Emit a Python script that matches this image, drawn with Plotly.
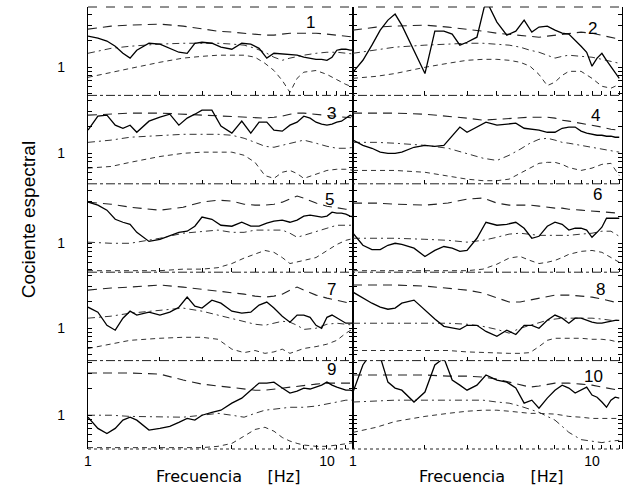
import plotly.graph_objects as go
from plotly.subplots import make_subplots

# Frequency grids [Hz]
freq_obs = [1.0, 1.1, 1.2, 1.3, 1.4, 1.5, 1.6, 1.8, 2.0, 2.2, 2.4, 2.6, 2.8, 3.0, 3.3, 3.6,
            4.0, 4.4, 4.8, 5.2, 5.6, 6.0, 6.5, 7.0, 7.5, 8.0, 8.5, 9.0, 9.5, 10.0, 10.5,
            11.0, 11.5, 12.0, 12.5, 13.0]
freq_mod = [1.0, 1.25, 1.5, 2.0, 2.5, 3.0, 3.5, 4.0, 4.5, 5.0, 5.5, 6.0, 6.5, 7.0, 7.5,
            8.0, 9.0, 10.0, 11.0, 12.0, 13.0]

# Observed spectral ratios (solid)
obs_1 = [2.25,2.14,1.98,1.73,1.44,1.27,1.56,1.87,1.83,1.64,1.48,1.44,1.87,1.92,1.87,1.69,1.60,1.87,1.83,1.64,1.27,1.44,1.41,1.37,1.37,1.30,1.27,1.23,1.23,1.20,1.30,1.56,1.60,1.60,1.56,1.56]
obs_2 = [0.88,1.20,1.78,2.63,3.42,4.00,3.00,1.56,0.85,2.56,2.56,2.37,1.78,1.92,2.19,5.77,3.25,2.31,2.56,3.42,2.50,2.85,2.92,2.63,2.43,2.37,2.03,1.73,1.48,1.03,1.27,1.44,1.20,1.03,0.88,0.75]
obs_3 = [1.83,2.63,2.70,2.08,1.92,2.08,1.73,2.31,2.56,2.77,2.08,2.50,2.77,3.08,3.08,2.03,1.69,2.31,1.69,2.25,2.25,1.83,1.78,2.08,2.25,2.63,2.50,2.25,2.14,2.08,2.14,2.25,2.31,2.50,2.70,2.56]
obs_4 = [1.41,1.23,1.14,1.03,1.00,1.00,1.03,1.17,1.23,1.20,1.23,1.60,1.98,1.73,1.98,2.25,2.08,2.14,2.19,1.92,1.87,1.83,1.73,1.73,1.92,1.98,1.98,1.78,1.69,1.64,1.60,1.60,1.56,1.56,1.52,1.52]
obs_5 = [2.92,2.70,2.37,1.87,1.73,1.64,1.33,1.05,1.11,1.23,1.33,1.37,1.56,1.98,1.87,1.60,1.56,1.73,1.56,1.56,1.69,1.78,1.83,1.73,1.83,2.03,2.08,2.03,1.98,2.03,2.25,2.19,2.19,2.14,2.03,1.98]
obs_6 = [1.30,0.95,0.85,0.85,0.95,1.00,0.97,0.88,0.71,0.83,0.92,0.88,0.81,0.83,1.14,1.73,1.60,1.64,1.73,1.48,1.14,1.20,1.56,1.73,1.64,1.41,1.48,1.48,1.41,1.17,1.33,1.52,1.92,1.92,1.92,1.92]
obs_7 = [1.73,1.52,1.08,0.95,1.30,1.56,1.41,1.52,1.41,1.52,1.73,2.25,1.78,1.69,2.08,1.92,1.56,1.48,1.52,1.83,1.98,1.69,1.37,1.17,1.41,1.41,1.33,1.08,1.00,1.33,1.41,1.30,1.23,1.14,1.14,1.14]
obs_8 = [2.56,2.19,1.92,1.73,1.64,1.69,1.92,2.08,1.60,1.27,1.05,1.00,0.97,1.08,1.08,0.92,0.81,0.95,0.85,1.08,1.08,1.00,1.23,1.41,1.30,1.14,1.30,1.30,1.23,1.17,1.14,1.14,1.17,1.20,1.23,1.23]
obs_9 = [0.95,0.71,0.62,0.71,0.88,0.95,0.88,0.68,0.71,0.75,0.83,0.92,0.88,1.00,1.08,1.14,1.37,1.56,1.92,2.31,2.31,2.37,2.03,1.78,1.87,2.03,1.98,2.08,2.19,2.37,2.19,2.08,1.98,1.92,1.92,1.87]
obs_10 = [1.83,3.70,5.19,4.57,2.37,2.03,1.92,1.41,1.83,3.70,4.44,2.50,2.19,1.92,2.19,2.85,2.50,2.37,2.03,1.37,1.48,1.20,1.56,1.92,2.19,2.03,1.78,1.92,2.08,1.69,1.60,1.41,1.23,1.48,1.60,1.56]

# Model curves: upper (a), middle (b), lower (c)
a_1 = [2.70,2.92,3.00,3.08,2.92,2.70,2.56,2.50,2.43,2.37,2.31,2.31,2.37,2.43,2.43,2.43,2.43,2.37,2.31,2.25,2.19]
b_1 = [1.44,1.64,1.73,1.83,1.87,1.87,1.87,1.83,1.78,1.64,1.48,1.30,1.20,1.27,1.33,1.37,1.44,1.48,1.48,1.44,1.41]
c_1 = [0.77,0.88,0.97,1.14,1.27,1.33,1.37,1.37,1.37,1.30,1.11,0.92,0.71,0.52,0.75,0.88,0.92,0.83,0.73,0.64,0.59]
a_2 = [2.63,2.85,2.92,3.00,2.85,2.70,2.56,2.43,2.37,2.31,2.25,2.19,2.25,2.31,2.37,2.43,2.50,2.43,2.31,2.19,2.08]
b_2 = [1.44,1.56,1.69,1.78,1.83,1.87,1.87,1.83,1.78,1.69,1.56,1.48,1.37,1.27,1.33,1.37,1.33,1.30,1.23,1.17,1.11]
c_2 = [0.75,0.79,0.85,1.00,1.11,1.20,1.23,1.23,1.20,1.14,1.03,0.83,0.62,0.68,0.81,0.90,0.90,0.75,0.61,0.58,0.64]
a_3 = [2.70,2.77,2.85,2.85,2.77,2.70,2.63,2.56,2.56,2.50,2.50,2.56,2.63,2.77,2.85,2.85,2.77,2.70,2.63,2.56,2.50]
b_3 = [1.33,1.41,1.52,1.60,1.64,1.64,1.64,1.60,1.48,1.33,1.20,1.17,1.23,1.30,1.37,1.41,1.30,1.20,1.14,1.14,1.17]
c_3 = [0.68,0.71,0.79,0.92,1.00,1.03,1.03,1.03,0.95,0.79,0.56,0.52,0.61,0.64,0.59,0.52,0.58,0.64,0.66,0.66,0.64]
a_4 = [2.85,2.85,2.85,2.77,2.63,2.50,2.37,2.43,2.50,2.56,2.56,2.56,2.56,2.50,2.37,2.31,2.19,2.08,1.98,1.87,1.83]
b_4 = [1.33,1.33,1.30,1.23,1.14,1.00,0.88,0.83,0.95,1.11,1.30,1.44,1.48,1.41,1.33,1.30,1.23,1.17,1.11,1.08,1.03]
c_4 = [0.64,0.64,0.64,0.61,0.55,0.51,0.49,0.49,0.51,0.59,0.68,0.77,0.79,0.79,0.75,0.69,0.64,0.68,0.75,0.77,0.56]
a_5 = [2.92,2.77,2.56,2.37,2.56,2.92,3.08,3.00,2.77,2.70,2.70,2.77,2.92,3.16,3.42,3.25,2.85,2.63,2.50,2.43,2.37]
b_5 = [1.03,1.00,1.00,1.14,1.30,1.37,1.41,1.33,1.33,1.41,1.41,1.41,1.41,1.30,1.17,1.23,1.37,1.48,1.60,1.60,1.60]
c_5 = [0.49,0.49,0.49,0.49,0.51,0.51,0.53,0.59,0.68,0.75,0.83,0.79,0.69,0.59,0.61,0.64,0.69,0.83,0.97,1.08,1.14]
a_6 = [2.85,2.85,2.77,2.70,2.85,3.16,3.25,2.85,2.70,2.70,2.70,2.63,2.56,2.50,2.50,2.43,2.37,2.31,2.25,2.19,2.19]
b_6 = [1.14,1.14,1.14,1.11,1.08,1.03,1.08,1.17,1.27,1.30,1.27,1.23,1.23,1.23,1.23,1.23,1.27,1.30,1.37,1.37,1.20]
c_6 = [0.49,0.49,0.49,0.49,0.49,0.49,0.51,0.58,0.68,0.71,0.64,0.59,0.61,0.64,0.69,0.75,0.81,0.83,0.79,0.69,0.61]
a_7 = [2.70,2.85,2.92,3.08,2.92,2.77,2.63,2.56,2.43,2.31,2.25,2.31,2.43,2.70,2.92,2.70,2.37,2.19,2.08,1.98,1.87]
b_7 = [1.30,1.37,1.48,1.60,1.69,1.56,1.41,1.30,1.20,1.11,1.08,1.14,1.20,1.17,1.08,0.97,1.00,1.11,1.14,1.11,1.08]
c_7 = [0.59,0.66,0.73,0.77,0.79,0.79,0.75,0.58,0.53,0.56,0.52,0.54,0.58,0.52,0.56,0.59,0.62,0.66,0.73,0.88,1.00]
a_8 = [3.08,3.08,3.08,3.00,2.85,2.70,2.50,2.19,1.98,1.98,2.08,2.19,2.31,2.37,2.37,2.37,2.31,2.25,2.14,2.03,1.92]
b_8 = [1.14,1.14,1.14,1.14,1.14,1.11,1.05,0.97,0.88,1.00,1.08,1.17,1.23,1.27,1.30,1.30,1.30,1.30,1.27,1.23,1.23]
c_8 = [0.56,0.56,0.56,0.56,0.56,0.54,0.53,0.52,0.52,0.52,0.53,0.62,0.73,0.77,0.77,0.77,0.77,0.75,0.75,0.73,0.69]
a_9 = [3.00,3.00,3.00,2.92,2.50,2.25,2.14,2.03,1.98,1.92,1.92,1.98,2.03,2.08,2.14,2.19,2.25,2.31,2.31,2.31,2.31]
b_9 = [1.00,1.00,0.97,0.95,0.95,1.00,1.05,1.00,0.95,1.05,1.14,1.17,1.20,1.23,1.23,1.23,1.27,1.33,1.41,1.48,1.48]
c_9 = [0.43,0.43,0.43,0.43,0.43,0.43,0.445,0.48,0.58,0.69,0.73,0.66,0.56,0.51,0.48,0.46,0.445,0.445,0.46,0.48,0.49]
a_10 = [2.85,2.85,2.85,2.85,2.77,2.77,2.70,2.56,2.37,2.19,2.08,2.14,2.25,2.31,2.31,2.31,2.25,2.19,2.08,1.98,1.92]
b_10 = [1.41,1.44,1.48,1.48,1.48,1.48,1.48,1.41,1.37,1.27,1.17,1.08,0.97,0.88,0.75,0.64,0.53,0.51,0.49,0.51,0.52]
c_10 = [0.64,0.73,0.85,0.97,1.05,1.11,1.14,1.14,1.11,1.08,1.05,1.05,1.05,1.03,1.00,0.97,0.95,0.92,0.92,0.92,0.92]

panel_labels = ["1", "2", "3", "4", "5", "6", "7", "8", "9", "10"]
x_tick_vals = [1, 2, 3, 4, 5, 6, 7, 8, 9, 10, 11, 12, 13]
x_tick_text = ["1", "", "", "", "", "", "", "", "", "10", "", "", ""]
y_tick_vals = [0.5, 0.6, 0.7, 0.8, 0.9, 1, 2, 3, 4]
y_tick_text = ["", "", "", "", "", "1", "", "", ""]

obs = [obs_1, obs_2, obs_3, obs_4, obs_5, obs_6, obs_7, obs_8, obs_9, obs_10]
mod_a = [a_1, a_2, a_3, a_4, a_5, a_6, a_7, a_8, a_9, a_10]
mod_b = [b_1, b_2, b_3, b_4, b_5, b_6, b_7, b_8, b_9, b_10]
mod_c = [c_1, c_2, c_3, c_4, c_5, c_6, c_7, c_8, c_9, c_10]

# layout helpers (log10 ranges)
row_ranges = [[-0.318, 0.682], [-0.345, 0.655], [-0.327, 0.673], [-0.366, 0.634], [-0.382, 0.618]]
col_xranges = [[0, 1.109], [0, 1.1255]]
label_x = [0.84, 0.89, 0.92, 0.90, 0.91, 0.91, 0.92, 0.92, 0.92, 0.895]
label_y = [0.82, 0.76, 0.80, 0.77, 0.82, 0.875, 0.80, 0.80, 0.90, 0.82]

fig = make_subplots(rows=5, cols=2, horizontal_spacing=0, vertical_spacing=0,
                    column_widths=[265, 269])

for k in range(10):
    r = k // 2 + 1
    c = k % 2 + 1
    fig.add_trace(go.Scatter(x=freq_mod, y=mod_a[k], mode="lines",
                             line=dict(color="#222", width=1.1, dash="9px,6px")), row=r, col=c)
    fig.add_trace(go.Scatter(x=freq_mod, y=mod_b[k], mode="lines",
                             line=dict(color="#333", width=1.0, dash="7px,4px,2px,4px")), row=r, col=c)
    fig.add_trace(go.Scatter(x=freq_mod, y=mod_c[k], mode="lines",
                             line=dict(color="#333", width=1.0, dash="5px,4px")), row=r, col=c)
    fig.add_trace(go.Scatter(x=freq_obs, y=obs[k], mode="lines",
                             line=dict(color="black", width=1.3)), row=r, col=c)

    sfx = "" if k == 0 else str(k + 1)
    fig.layout["xaxis" + sfx].update(
        type="log", range=col_xranges[c - 1], tickvals=x_tick_vals, ticktext=x_tick_text,
        ticks="inside", ticklen=4, tickcolor="black", tickwidth=1, showgrid=False,
        zeroline=False, showline=False, showticklabels=(r == 5), ticklabelstandoff=2,
        tickfont=dict(size=14, color="black"))
    fig.layout["yaxis" + sfx].update(
        type="log", range=row_ranges[r - 1], tickvals=y_tick_vals, ticktext=y_tick_text,
        ticks="inside", ticklen=4, tickcolor="black", tickwidth=1, showgrid=False,
        zeroline=False, showline=True, linecolor="black", linewidth=1.3, mirror="ticks",
        showticklabels=(c == 1), ticklabelstandoff=19,
        tickfont=dict(size=14, color="black"))
    fig.add_annotation(text=panel_labels[k], xref="x" + sfx + " domain", yref="y" + sfx + " domain",
                       x=label_x[k], y=label_y[k], showarrow=False,
                       font=dict(size=17, color="black", family="Liberation Sans, Arial"),
                       xanchor="center", yanchor="middle")

# panel separators
for yy, dsh in [(0.2, "dashdot"), (0.4, "dashdot"), (0.6, "dashdot"), (0.8, "dashdot"), (1.0, "dash"), (0.0, "dot")]:
    fig.add_shape(type="line", xref="paper", yref="paper", x0=0, x1=1, y0=yy, y1=yy,
                  line=dict(color="#222", width=1, dash=dsh))

fig.add_annotation(text="Cociente espectral", xref="paper", yref="paper", x=-0.112, y=0.518,
                   textangle=-90, showarrow=False, font=dict(size=19, color="black",
                   family="Liberation Sans, Arial"), xanchor="center", yanchor="middle")
for xx in [0.262, 0.755]:
    fig.add_annotation(text="Frecuencia\u00a0\u00a0\u00a0\u00a0\u00a0[Hz]", xref="paper", yref="paper",
                       x=xx, y=-0.063, showarrow=False,
                       font=dict(size=16, color="black", family="DejaVu Sans"),
                       xanchor="center", yanchor="middle")

fig.update_layout(width=623, height=488, margin=dict(l=88, r=1, t=7, b=39),
                  paper_bgcolor="white", plot_bgcolor="white", showlegend=False,
                  font=dict(family="Liberation Sans, Arial", color="black"))

fig.write_html("out.html")
